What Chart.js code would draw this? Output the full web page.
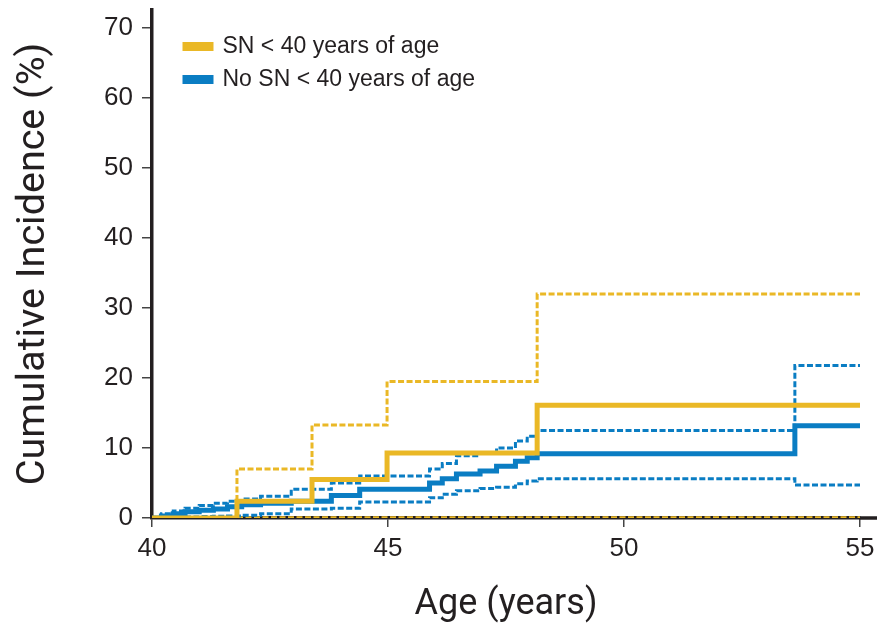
<!DOCTYPE html>
<html>
<head>
<meta charset="utf-8">
<script src="https://cdn.jsdelivr.net/npm/chart.js@4.4.1/dist/chart.umd.min.js"></script>
<style>
  html, body { margin: 0; padding: 0; background: #fff; }
  #wrap { width: 877px; height: 624px; position: relative; }
</style>
</head>
<body>
<div id="wrap"><canvas id="cif"></canvas></div>
<script>
// cumulative incidence, SN < 40 years of age (step points: age where the curve jumps)
const ageSN = [40, 41.8, 43.39, 44.98, 48.16, 55];
const snEst = [0, 2.4, 5.5, 9.3, 16.1, 16.1];
const snUpper = [0, 7.0, 13.3, 19.5, 32.0, 32.0];
const snLower = [0, 0, 0, 0, 0, 0];

// no SN < 40 years of age
const ageNoSN = [40, 40.2, 40.45, 40.7, 41.0, 41.3, 41.6, 41.9, 42.3, 42.95, 43.8, 44.4, 45.88, 46.15, 46.45, 46.95, 47.3, 47.7, 47.95, 48.16, 53.62, 55];
const noSNEst = [0, 0.3, 0.6, 0.9, 1.1, 1.3, 1.6, 1.9, 2.1, 2.4, 3.2, 4.1, 5.0, 5.6, 6.3, 6.7, 7.4, 8.1, 8.6, 9.2, 13.2, 13.2];
const noSNUpper = [0, 0.6, 1.0, 1.4, 1.8, 2.1, 2.4, 2.7, 3.1, 4.1, 5.0, 6.0, 7.0, 7.8, 8.9, 9.3, 10.0, 11.0, 11.7, 12.5, 21.8, 21.8];
const noSNLower = [0, 0.05, 0.1, 0.15, 0.2, 0.25, 0.3, 0.4, 0.6, 1.3, 1.4, 2.3, 2.9, 3.4, 3.9, 4.2, 4.4, 4.9, 5.3, 5.6, 4.7, 4.7];

const xTicks = [40, 45, 50, 55];
const yTicks = [0, 10, 20, 30, 40, 50, 60, 70];

const YELLOW = '#EAB826';
const BLUE = '#0A7DC3';
const INK = '#231F20';

function pts(ages, vals) {
  return ages.map((a, i) => ({ x: a, y: vals[i] }));
}

function estLine(label, ages, vals, color) {
  return {
    label: label,
    data: pts(ages, vals),
    borderColor: color,
    backgroundColor: color,
    borderWidth: 5,
    stepped: 'before',
    pointRadius: 0,
    fill: false
  };
}

function ciLine(ages, vals, color, w) {
  return {
    label: '',
    data: pts(ages, vals),
    borderColor: color,
    borderWidth: w || 3,
    borderDash: [6, 2.5],
    stepped: 'before',
    pointRadius: 0,
    fill: false
  };
}

// x axis line runs on past 55 to the right edge in the original
const axisStub = {
  id: 'axisStub',
  beforeDatasetsDraw(c) {
    const { ctx, chartArea, width } = c;
    const y = c.scales.y.getPixelForValue(0);
    ctx.save();
    ctx.strokeStyle = INK;
    ctx.lineWidth = 3.5;
    ctx.beginPath();
    ctx.moveTo(chartArea.right - 1, y);
    ctx.lineTo(width, y);
    ctx.stroke();
    ctx.restore();
  },
  afterLayout(c) {
    // nudge the in-area legend to where the original sits
    c.legend.left = c.chartArea.left + 23;
    c.legend.top = c.chartArea.top + 15;
  }
};

const ctx = document.getElementById('cif');
const chart = new Chart(ctx, {
  type: 'line',
  data: {
    datasets: [
      estLine('SN < 40 years of age', ageSN, snEst, YELLOW),
      estLine('No SN < 40 years of age', ageNoSN, noSNEst, BLUE),
      ciLine(ageNoSN, noSNUpper, BLUE),
      ciLine(ageNoSN, noSNLower, BLUE),
      ciLine(ageSN, snUpper, YELLOW),
      ciLine(ageSN, snLower, YELLOW, 3.5)
    ]
  },
  options: {
    responsive: true,
    maintainAspectRatio: false,
    animation: false,
    layout: { padding: { top: 10, right: 17, left: 0, bottom: 0 } },
    plugins: {
      tooltip: { enabled: false },
      legend: {
        position: 'chartArea',
        align: 'start',
        labels: {
          filter: item => item.text !== '',
          boxWidth: 26,
          boxHeight: 4,
          padding: 10,
          color: INK,
          font: { family: 'Liberation Sans', size: 23 }
        }
      }
    },
    scales: {
      x: {
        type: 'linear',
        min: 40,
        max: 55,
        afterBuildTicks: s => { s.ticks = xTicks.map(v => ({ value: v })); },
        afterFit: s => { s.height = 106; s.paddingLeft = 0; s.paddingRight = 0; },
        border: { display: true, color: INK, width: 3.5 },
        grid: { drawOnChartArea: false, drawTicks: true, tickLength: 9, color: '#444', lineWidth: 1.5 },
        ticks: { color: INK, padding: 6, font: { family: 'Liberation Sans', size: 26 } },
        title: {
          display: true,
          text: 'Age (years)',
          color: INK,
          padding: { top: 0, bottom: -3 },
          font: { family: 'Roboto', size: 36 }
        }
      },
      y: {
        min: 0,
        max: 72.6,
        afterBuildTicks: s => { s.ticks = yTicks.map(v => ({ value: v })); },
        afterFit: s => { s.width = 152; s.paddingTop = 0; s.paddingBottom = 0; },
        border: { display: true, color: INK, width: 3.5 },
        grid: { drawOnChartArea: false, drawTicks: true, tickLength: 10, color: '#444', lineWidth: 1.5 },
        ticks: { color: INK, padding: 9, font: { family: 'Liberation Sans', size: 26 } },
        title: {
          display: true,
          text: 'Cumulative Incidence (%)',
          color: INK,
          padding: { top: 10, bottom: 0 },
          font: { family: 'Roboto', size: 39.5 }
        }
      }
    }
  },
  plugins: [axisStub]
});
</script>
</body>
</html>
